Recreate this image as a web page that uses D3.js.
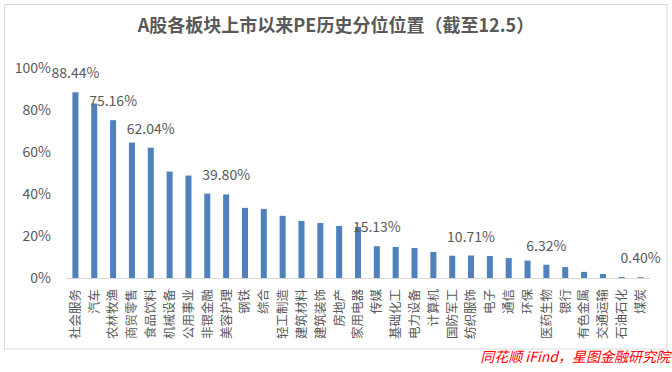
<!DOCTYPE html>
<head>
	<meta charset="utf-8" />
	<style>
		body {
			margin: 0;
			background-color: #fff;
			font-family: 'Noto Sans CJK SC', 'Noto Sans', sans-serif;
		}
	</style>
</head>
<body>
	<div id="chart-area"></div>

	<script src="https://cdnjs.cloudflare.com/ajax/libs/d3/7.8.5/d3.min.js"></script>
	<script>
		var sectors = [
			'社会服务', '汽车', '农林牧渔', '商贸零售', '食品饮料', '机械设备', '公用事业',
			'非银金融', '美容护理', '钢铁', '综合', '轻工制造', '建筑材料', '建筑装饰',
			'房地产', '家用电器', '传媒', '基础化工', '电力设备', '计算机', '国防军工',
			'纺织服饰', '电子', '通信', '环保', '医药生物', '银行', '有色金属',
			'交通运输', '石油石化', '煤炭',
		];
		// percentile in %
		var percentiles = [
			88.44, 83.1, 75.16, 64.5, 62.04, 50.7, 48.8,
			40.2, 39.8, 33.4, 32.9, 29.6, 27.2, 26.2,
			24.8, 24.3, 15.13, 14.8, 14.3, 12.4, 10.6,
			10.71, 10.5, 9.5, 8.3, 6.32, 5.2, 2.9,
			1.9, 0.5, 0.4,
		];
		// only these bars carry a value label
		var labelled = ['社会服务', '农林牧渔', '食品饮料', '美容护理', '传媒', '纺织服饰', '医药生物', '煤炭'];
		var yTicks = [0, 20, 40, 60, 80, 100];

		var W = 672, H = 372;
		var margins = { top: 68, right: 22, bottom: 94, left: 66 };
		var textColor = '#595959';

		var data = sectors.map((s, i) => ({ name: s, value: percentiles[i] }));

		var svg = d3.select('#chart-area')
			.append('svg')
			.attr('width', W)
			.attr('height', H);

		// frame round the chart
		svg.append('rect')
			.attr('x', 4.5)
			.attr('y', 4.5)
			.attr('width', 662.5)
			.attr('height', 344.5)
			.attr('fill', 'none')
			.attr('stroke', '#d9d9d9');

		svg.append('text')
			.attr('x', 336)
			.attr('y', 32)
			.attr('text-anchor', 'middle')
			.attr('font-size', 18)
			.attr('font-weight', 'bold')
			.attr('fill', textColor)
			.text('A股各板块上市以来PE历史分位位置（截至12.5）');

		var x = d3.scaleBand()
			.domain(sectors)
			.range([margins.left, 650])
			.paddingInner(0.68)
			.paddingOuter(0.34);

		var y = d3.scaleLinear()
			.domain([0, 100])
			.range([278, margins.top]);

		// y axis labels, no line / gridlines
		var yAxis = d3.axisLeft(y)
			.tickValues(yTicks)
			.tickSize(0)
			.tickPadding(0)
			.tickFormat(d => d + '%');

		svg.append('g')
			.attr('transform', 'translate(51,0)')
			.call(yAxis)
			.call(g => g.select('.domain').remove())
			.selectAll('text')
			.attr('font-family', "'Noto Sans CJK SC', sans-serif")
			.attr('font-size', 14)
			.attr('fill', textColor);

		svg.append('g')
			.selectAll('rect')
			.data(data)
			.join('rect')
			.attr('x', d => x(d.name))
			.attr('y', d => y(d.value))
			.attr('width', x.bandwidth())
			.attr('height', d => y(0) - y(d.value))
			.attr('fill', '#4f81bd');

		// x axis: line + rotated labels
		var xAxis = d3.axisBottom(x).tickSize(0).tickPadding(0);

		svg.append('g')
			.attr('transform', 'translate(0,' + y(0) + ')')
			.call(xAxis)
			.call(g => g.select('.domain')
				.attr('stroke', '#d9d9d9')
				.attr('d', 'M' + 66 + ',0.5H650'))
			.selectAll('text')
			.attr('font-family', "'Noto Sans CJK SC', sans-serif")
			.attr('font-size', 12.5)
			.attr('fill', textColor)
			.attr('text-anchor', 'end')
			.attr('transform', 'rotate(-90)')
			.attr('x', -11)
			.attr('y', 0)
			.attr('dy', '0.35em');

		svg.append('g')
			.selectAll('text')
			.data(data.filter(d => labelled.includes(d.name)))
			.join('text')
			.attr('x', d => x(d.name) + x.bandwidth() / 2)
			.attr('y', d => y(d.value) - 14)
			.attr('text-anchor', 'middle')
			.attr('font-size', 14)
			.attr('fill', textColor)
			.text(d => d.value.toFixed(2) + '%');

		svg.append('text')
			.attr('x', 670)
			.attr('y', 362)
			.attr('text-anchor', 'end')
			.attr('font-size', 14)
			.attr('font-style', 'italic')
			.attr('fill', '#ff0000')
			.text('同花顺 iFind，星图金融研究院');
	</script>
</body>
